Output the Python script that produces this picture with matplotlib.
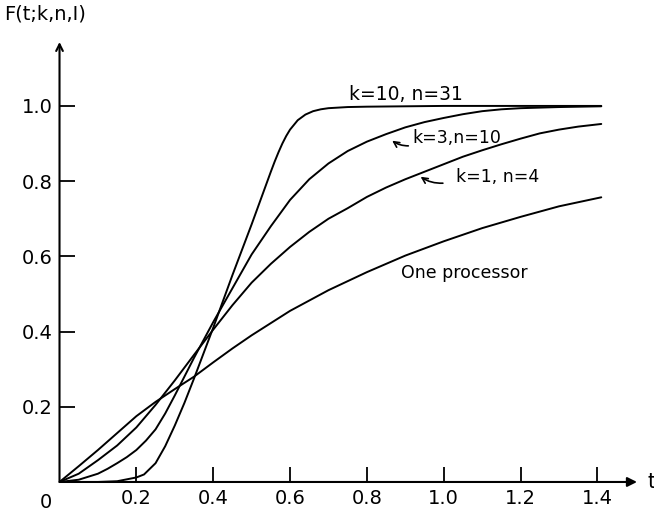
import matplotlib.pyplot as plt

# values
t_one = [0, 0.05, 0.1, 0.15, 0.2, 0.25, 0.3, 0.35, 0.4, 0.45, 0.5, 0.6, 0.7, 0.8,
         0.9, 1.0, 1.1, 1.2, 1.3, 1.41]
F_one = [0, 0.042, 0.085, 0.13, 0.175, 0.213, 0.247, 0.28, 0.318, 0.355, 0.39, 0.455,
         0.51, 0.558, 0.602, 0.64, 0.675, 0.705, 0.733, 0.757]

t_k1 = [0, 0.05, 0.1, 0.15, 0.2, 0.25, 0.3, 0.35, 0.4, 0.45, 0.5, 0.55, 0.6, 0.65,
        0.7, 0.75, 0.8, 0.85, 0.9, 0.95, 1.0, 1.05, 1.1, 1.15, 1.2, 1.25, 1.3,
        1.35, 1.41]
F_k1 = [0, 0.022, 0.058, 0.097, 0.145, 0.205, 0.27, 0.338, 0.405, 0.47, 0.53, 0.58,
        0.625, 0.665, 0.7, 0.728, 0.758, 0.783, 0.805, 0.825, 0.845, 0.865, 0.882,
        0.898, 0.913, 0.927, 0.937, 0.945, 0.952]

t_k3 = [0, 0.05, 0.1, 0.125, 0.15, 0.175, 0.2, 0.225, 0.25, 0.275, 0.3, 0.35, 0.4,
        0.45, 0.5, 0.55, 0.6, 0.65, 0.7, 0.75, 0.8, 0.85, 0.9, 0.95, 1.0, 1.05,
        1.1, 1.15, 1.2, 1.3, 1.41]
F_k3 = [0, 0.006, 0.022, 0.035, 0.05, 0.066, 0.085, 0.11, 0.14, 0.182, 0.23, 0.33,
        0.425, 0.515, 0.605, 0.68, 0.75, 0.805, 0.847, 0.88, 0.905, 0.925, 0.943,
        0.957, 0.968, 0.978, 0.986, 0.991, 0.994, 0.997, 0.999]

t_k10 = [0, 0.1, 0.15, 0.2, 0.22, 0.25, 0.275, 0.3, 0.325, 0.35, 0.4, 0.45, 0.5,
         0.55, 0.56, 0.57, 0.58, 0.59, 0.6, 0.62, 0.64, 0.66, 0.68, 0.7, 0.75,
         0.8, 1.0, 1.2, 1.41]
F_k10 = [0, 0.0, 0.002, 0.012, 0.02, 0.05, 0.095, 0.15, 0.21, 0.275, 0.41, 0.55,
         0.685, 0.825, 0.852, 0.877, 0.9, 0.92, 0.937, 0.962, 0.977, 0.986, 0.991,
         0.994, 0.997, 0.998, 1.0, 1.0, 1.0]

xticks = [0.2, 0.4, 0.6, 0.8, 1.0, 1.2, 1.4]
yticks = [0.2, 0.4, 0.6, 0.8, 1.0]

plt.rcParams['font.family'] = ['DejaVu Sans']

fig = plt.figure(figsize=(6.54, 5.14), dpi=100)
ax = fig.add_axes([0.091, 0.0623, 0.883, 0.856])
ax.set_xlim(0, 1.503)
ax.set_ylim(0, 1.17)

lw = 1.4
for t, F in [(t_one, F_one), (t_k1, F_k1), (t_k3, F_k3), (t_k10, F_k10)]:
    ax.plot(t, F, color='black', lw=lw, solid_capstyle='round',
            solid_joinstyle='round')

for s in ax.spines.values():
    s.set_visible(False)

# axes with arrow heads
ax.annotate('', xy=(1.503, 0), xytext=(0, 0), annotation_clip=False,
            arrowprops=dict(arrowstyle='-|>', color='black', lw=1.5,
                            mutation_scale=14, shrinkA=0, shrinkB=0))
ax.annotate('', xy=(0, 1.17), xytext=(0, 0), annotation_clip=False,
            arrowprops=dict(arrowstyle='->', color='black', lw=1.5,
                            mutation_scale=12, shrinkA=0, shrinkB=0))

ax.set_xticks(xticks)
ax.set_xticklabels([f'{v:.1f}' for v in xticks])
ax.set_yticks(yticks)
ax.set_yticklabels([f'{v:.1f}' for v in yticks])
ax.tick_params(direction='in', length=11, width=1.3, labelsize=14, pad=5)

ax.text(-0.035, -0.03, '0', fontsize=14, ha='center', va='top')
ax.text(1.53, 0, 't', fontsize=15, ha='left', va='center')
ax.text(-0.145, 1.245, 'F(t;k,n,I)', fontsize=14, ha='left', va='center')

ax.text(0.902, 1.03, 'k=10, n=31', fontsize=13.5, ha='center', va='center')
ax.text(1.033, 0.915, 'k=3,n=10', fontsize=12.5, ha='center', va='center')
ax.annotate('', xy=(0.86, 0.912), xytext=(0.915, 0.894),
            arrowprops=dict(arrowstyle='->', color='black', lw=1.2,
                            connectionstyle='arc3,rad=-0.2'))
ax.text(1.139, 0.811, 'k=1, n=4', fontsize=12.5, ha='center', va='center')
ax.annotate('', xy=(0.934, 0.816), xytext=(1.005, 0.795),
            arrowprops=dict(arrowstyle='->', color='black', lw=1.2,
                            connectionstyle='arc3,rad=-0.2'))
ax.text(0.89, 0.555, 'One processor', fontsize=12.5, ha='left', va='center')

fig.savefig('out.png', dpi=100)
